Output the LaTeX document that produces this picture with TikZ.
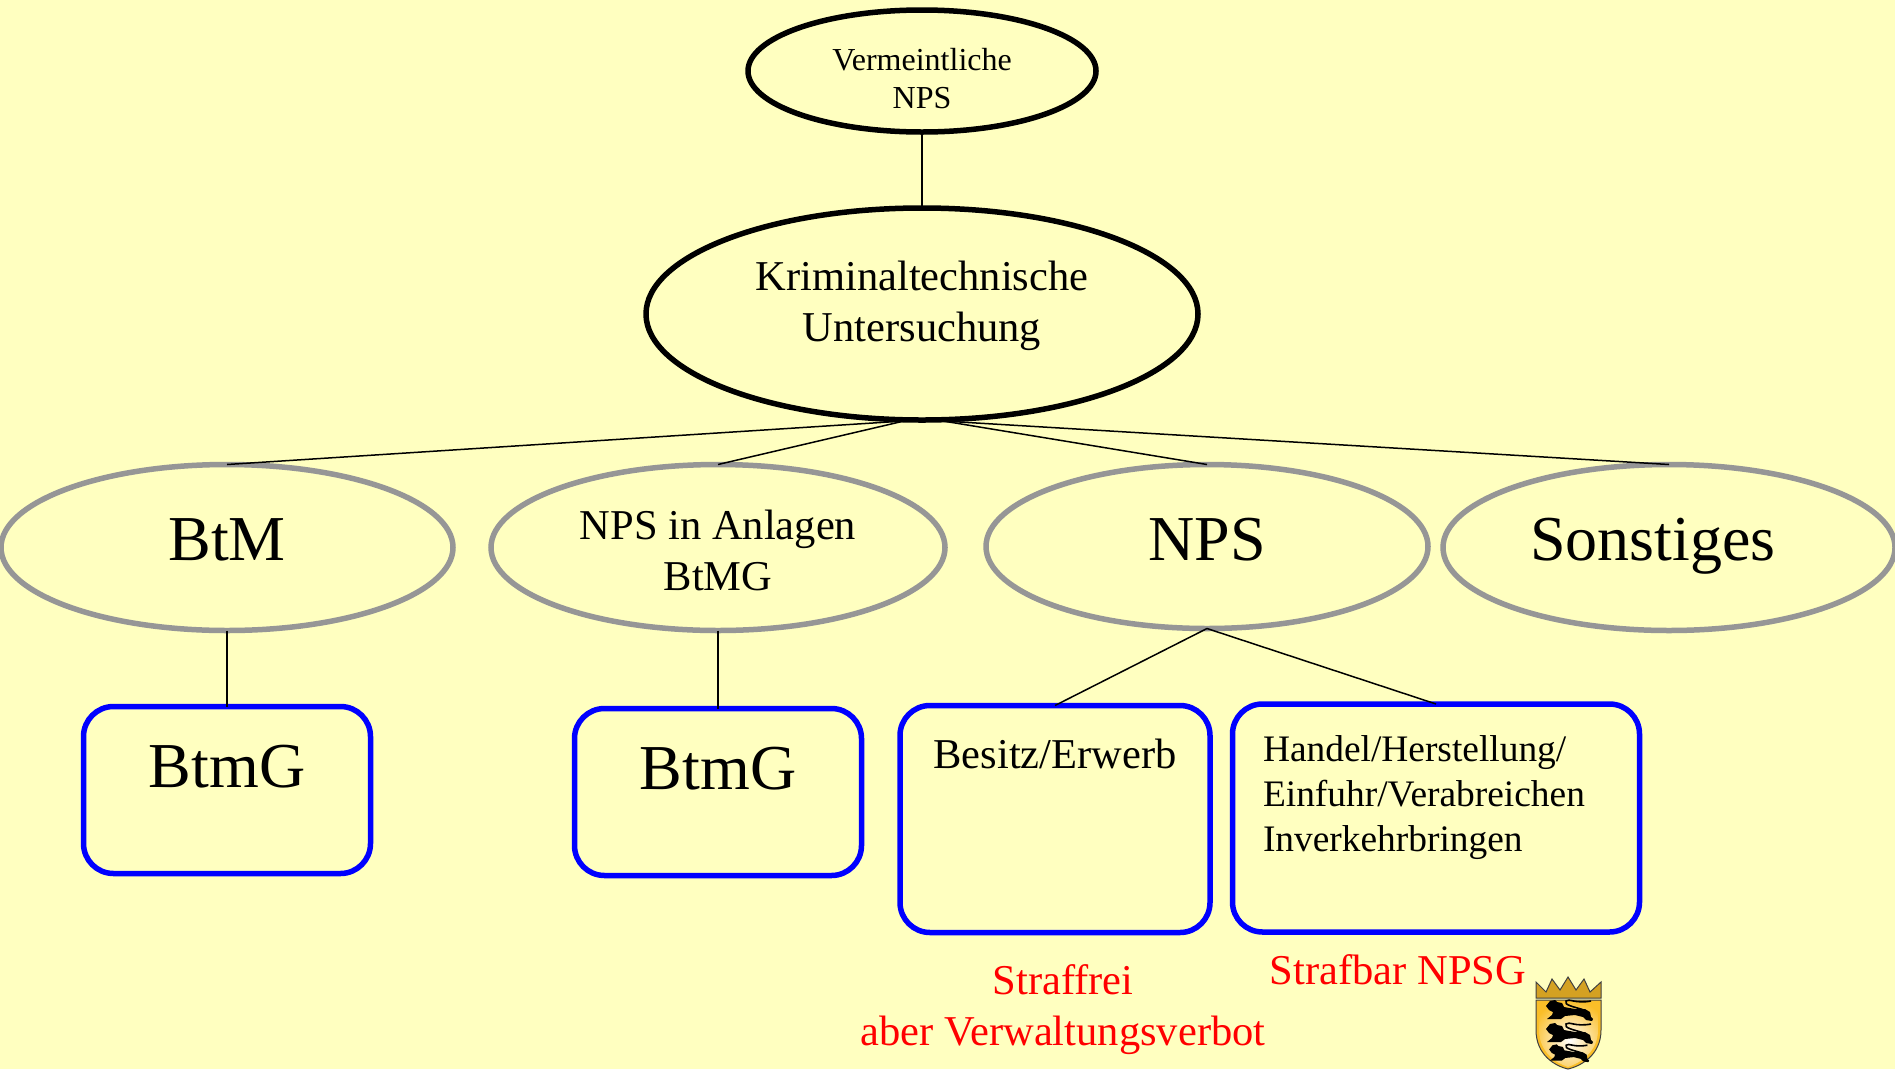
\documentclass[tikz,border=0pt]{standalone}
\usepackage{fontspec}
\setmainfont{Liberation Serif}
\usetikzlibrary{shapes.geometric}
\definecolor{bgc}{RGB}{255,255,192}
\definecolor{graye}{RGB}{150,150,150}
\definecolor{goldc}{RGB}{250,190,40}
\tikzset{
 x=1pt,y=-1pt,
 blk/.style={ellipse,draw=black,line width=5.5pt,inner sep=0pt,outer sep=0pt},
 gre/.style={ellipse,draw=graye,line width=5.5pt,inner sep=0pt,outer sep=0pt},
 bx/.style={rectangle,rounded corners=30pt,draw=blue,line width=5.5pt,inner sep=0pt,outer sep=0pt},
 lbl/.style={inner sep=0pt,outer sep=0pt,align=center,text=black},
 redl/.style={inner sep=0pt,outer sep=0pt,align=center,text=red},
 conn/.style={draw=black,line width=1.5pt},
 size/.style 2 args={font=\fontsize{#1}{#2}\selectfont},
}
\begin{document}
\begin{tikzpicture}
\useasboundingbox (0,0) rectangle (1895,1069);
\fill[bgc] (0,0) rectangle (1895,1069);
% ellipses
\node[blk,minimum width=348pt,minimum height=122pt] (top) at (922,71) {};
\node[blk,minimum width=552pt,minimum height=212pt] (ku) at (922,314) {};
\node[gre,minimum width=452pt,minimum height=166pt] (btm) at (227,547.5) {};
\node[gre,minimum width=454pt,minimum height=166pt] (anl) at (718,547.5) {};
\node[gre,minimum width=442pt,minimum height=164pt] (nps) at (1207,546.5) {};
\node[gre,minimum width=452pt,minimum height=166pt] (son) at (1669,547.5) {};
% boxes
\node[bx,minimum width=287pt,minimum height=167pt] (b1) at (227,790) {};
\node[bx,minimum width=287pt,minimum height=167pt] (b2) at (718,792) {};
\node[bx,minimum width=310pt,minimum height=227pt] (b3) at (1055,819) {};
\node[bx,minimum width=407pt,minimum height=228pt] (b4) at (1436,818) {};
% junctions
\coordinate (jl) at (904,421);
\coordinate (jr) at (943,421);
% connectors
\draw[conn] (top.south) -- (ku.north);
\draw[conn] (jl) -- (btm.north);
\draw[conn] (jl) -- (anl.north);
\draw[conn] (jr) -- (nps.north);
\draw[conn] (jr) -- (son.north);
\draw[conn] (btm.south) -- (b1.north);
\draw[conn] (anl.south) -- (b2.north);
\draw[conn] (nps.south) -- (b3.north);
\draw[conn] (nps.south) -- (b4.north);
% labels
\node[lbl,size={32}{38.5}] (t1) at (922,78.5) {Vermeintliche\\NPS};
\node[lbl,size={42.5}{51}] (t2) at (922,306) {Kriminaltechnische\\Untersuchung};
\node[lbl,size={64}{77}] (t3) at (227,540) {BtM};
\node[lbl,size={42.5}{51}] (t4) at (718,550) {NPS in Anlagen\\BtMG};
\node[lbl,size={64}{77}] (t5) at (1207,540) {NPS};
\node[lbl,size={64}{77}] (t6) at (1653,546) {Sonstiges};
\node[lbl,size={64}{77}] (t7) at (227,767) {BtmG};
\node[lbl,size={64}{77}] (t8) at (718,769) {BtmG};
\node[lbl,size={42.5}{51}] (t9) at (1055,754) {Besitz/Erwerb};
\node[lbl,align=left,anchor=north west,size={37.4}{44.7}] (t10) at (1263,736) {Handel/Herstellung/\\Einfuhr/Verabreichen\\Inverkehrbringen};
\node[redl,size={42.5}{51}] (r1) at (1063,1009.5) {Straffrei\\aber Verwaltungsverbot};
\node[redl,size={42.5}{51}] (r2) at (1398,970) {Strafbar NPSG};
% coat of arms
\fill[goldc,draw=black!75,line width=1pt] (1536,1000) -- (1601,1000) -- (1601,1030) .. controls (1601,1055) and (1581,1066) .. (1568,1069) .. controls (1555,1066) and (1536,1055) .. (1536,1030) -- cycle;
\begin{scope}
\clip (1539,1001) -- (1598,1001) -- (1598,1030) .. controls (1598,1052) and (1580,1063) .. (1568,1067) .. controls (1556,1063) and (1539,1052) .. (1539,1030) -- cycle;
\shade[inner color=white,outer color=goldc] (1530,1000) rectangle (1610,1080);
\end{scope}
\fill[goldc!85!black,draw=black!75,line width=1pt] (1536,982) -- (1546,992) -- (1552,979) -- (1560,990) -- (1568,977) -- (1576,990) -- (1584,979) -- (1590,992) -- (1601,982) -- (1601,998) -- (1536,998) -- cycle;
\foreach \yy/\ss/\xx in {1009/1/1567,1032/1/1567,1052/.85/1567}{
 \begin{scope}[shift={(\xx,\yy)},xscale=\ss,yscale=\ss]
 \fill[black] (-21,-3) -- (-17,-8) -- (-12,-9) -- (-10,-7) -- (-5,-6) -- (-3,-2) -- (8,0) -- (18,0) -- (23,3) -- (24,8) -- (26,10) -- (25,12) -- (19,11) -- (16,8) -- (8,6) -- (-2,7) -- (-6,10) -- (-20,10) -- (-15,6) -- (-14,3) -- (-18,1) -- cycle;
 \draw[black,line width=1.6pt] (17,1) .. controls (8,-2) and (-4,-4) .. (-1,-8) .. controls (2,-11) and (8,-5) .. (24,-8);
 \end{scope}
}
\end{tikzpicture}
\end{document}
